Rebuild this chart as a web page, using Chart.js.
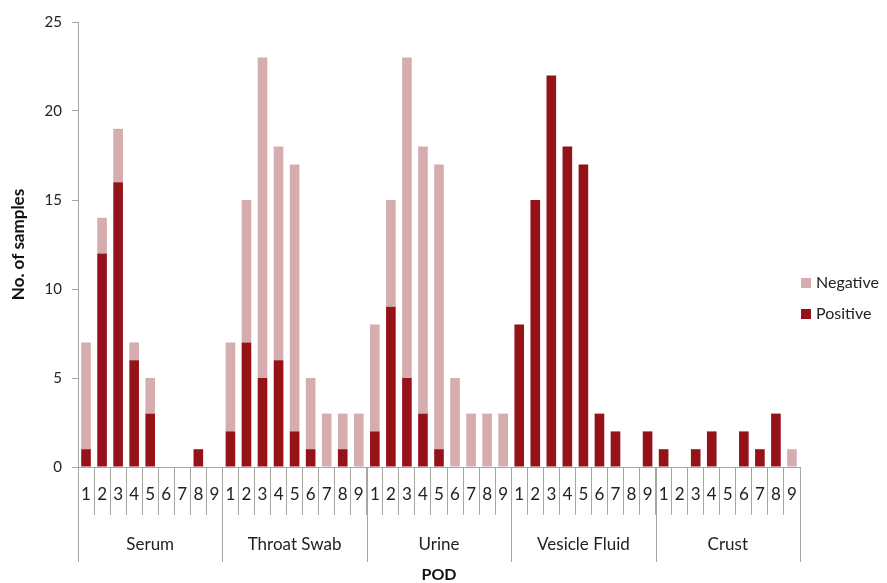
<!DOCTYPE html>
<html>
<head>
<meta charset="utf-8">
<script src="https://cdn.jsdelivr.net/npm/chart.js@4.4.1/dist/chart.umd.min.js"></script>
<style>
  html, body { margin: 0; padding: 0; background: #fff; }
  #wrap { width: 887px; height: 583px; position: relative; }
</style>
</head>
<body>
<div id="wrap"><canvas id="chart"></canvas></div>
<script>
const groups = ['Serum', 'Throat Swab', 'Urine', 'Vesicle Fluid', 'Crust'];
const pods = ['1', '2', '3', '4', '5', '6', '7', '8', '9'];

// per group, POD 1..9
const positive = [
  1, 12, 16, 6, 3, 0, 0, 1, 0,
  2, 7, 5, 6, 2, 1, 0, 1, 0,
  2, 9, 5, 3, 1, 0, 0, 0, 0,
  8, 15, 22, 18, 17, 3, 2, 0, 2,
  1, 0, 1, 2, 0, 2, 1, 3, 0
];
const negative = [
  6, 2, 3, 1, 2, 0, 0, 0, 0,
  5, 8, 18, 12, 15, 4, 3, 2, 3,
  6, 6, 18, 15, 16, 5, 3, 3, 3,
  0, 0, 0, 0, 0, 0, 0, 0, 0,
  0, 0, 0, 0, 0, 0, 0, 0, 1
];
const yTicks = [0, 5, 10, 15, 20, 25];

const labels = [];
groups.forEach(() => pods.forEach(p => labels.push(p)));

const fontFamily = 'Lato, "Liberation Sans", sans-serif';
const axisGray = '#a6a6a6';

// second row of the x axis (sample type) + legend on the right
const groupAxis = {
  id: 'groupAxis',
  afterDraw(chart) {
    const x = chart.scales.x;
    const ctx = chart.ctx;
    const half = (x.getPixelForValue(1) - x.getPixelForValue(0)) / 2;
    const top = chart.chartArea.bottom;
    ctx.save();
    ctx.strokeStyle = axisGray;
    ctx.lineWidth = 1;
    for (let g = 0; g <= groups.length; g++) {
      const px = Math.round(x.getPixelForValue(g * pods.length) - half) + 0.5;
      ctx.beginPath();
      ctx.moveTo(px, top);
      ctx.lineTo(px, top + 95);
      ctx.stroke();
    }
    ctx.fillStyle = '#222';
    ctx.font = '17px ' + fontFamily;
    ctx.textAlign = 'center';
    ctx.textBaseline = 'middle';
    groups.forEach((name, g) => {
      const cx = x.getPixelForValue(g * pods.length + 4);
      ctx.fillText(name, cx, top + 78);
    });

    // legend, top item is the last dataset
    const ds = chart.data.datasets.slice().reverse();
    const lx = chart.chartArea.right + 1;
    ds.forEach((d, i) => {
      const cy = 283 + i * 31;
      ctx.fillStyle = d.backgroundColor;
      ctx.fillRect(lx, cy - 5, 10, 10);
      ctx.fillStyle = '#222';
      ctx.textAlign = 'left';
      ctx.font = '16px ' + fontFamily;
      ctx.fillText(d.label, lx + 15, cy);
    });
    ctx.restore();
  }
};

new Chart(document.getElementById('chart'), {
  type: 'bar',
  data: {
    labels: labels,
    datasets: [
      {
        label: 'Positive',
        data: positive,
        backgroundColor: '#951218',
        barPercentage: 0.6,
        categoryPercentage: 1
      },
      {
        label: 'Negative',
        data: negative,
        backgroundColor: '#d6adae',
        barPercentage: 0.6,
        categoryPercentage: 1
      }
    ]
  },
  options: {
    responsive: true,
    maintainAspectRatio: false,
    animation: false,
    layout: { padding: { top: 22, right: 87, bottom: 0, left: 0 } },
    plugins: {
      legend: { display: false },
      tooltip: { enabled: false }
    },
    scales: {
      x: {
        stacked: true,
        afterFit(scale) { scale.height = 116; },
        grid: {
          display: true,
          offset: true,
          drawOnChartArea: false,
          drawTicks: true,
          tickLength: 48,
          color: axisGray
        },
        border: { color: axisGray },
        ticks: {
          color: '#222',
          padding: -31,
          maxRotation: 0,
          autoSkip: false,
          font: { family: fontFamily, size: 17 }
        },
        title: {
          display: true,
          text: 'POD',
          color: '#111',
          padding: 0,
          font: { family: fontFamily, size: 16, weight: 'bold', lineHeight: 1 }
        }
      },
      y: {
        stacked: true,
        min: 0,
        max: 25,
        afterFit(scale) { scale.width = 78; },
        afterBuildTicks(scale) { scale.ticks = yTicks.map(v => ({ value: v })); },
        grid: {
          drawOnChartArea: false,
          drawTicks: true,
          tickLength: 6,
          color: axisGray
        },
        border: { color: axisGray },
        ticks: {
          color: '#222',
          padding: 10,
          font: { family: fontFamily, size: 15 }
        },
        title: {
          display: true,
          text: 'No. of samples',
          color: '#111',
          padding: { top: 8, bottom: 0 },
          font: { family: fontFamily, size: 17, weight: 'bold' }
        }
      }
    }
  },
  plugins: [groupAxis]
});
</script>
</body>
</html>
